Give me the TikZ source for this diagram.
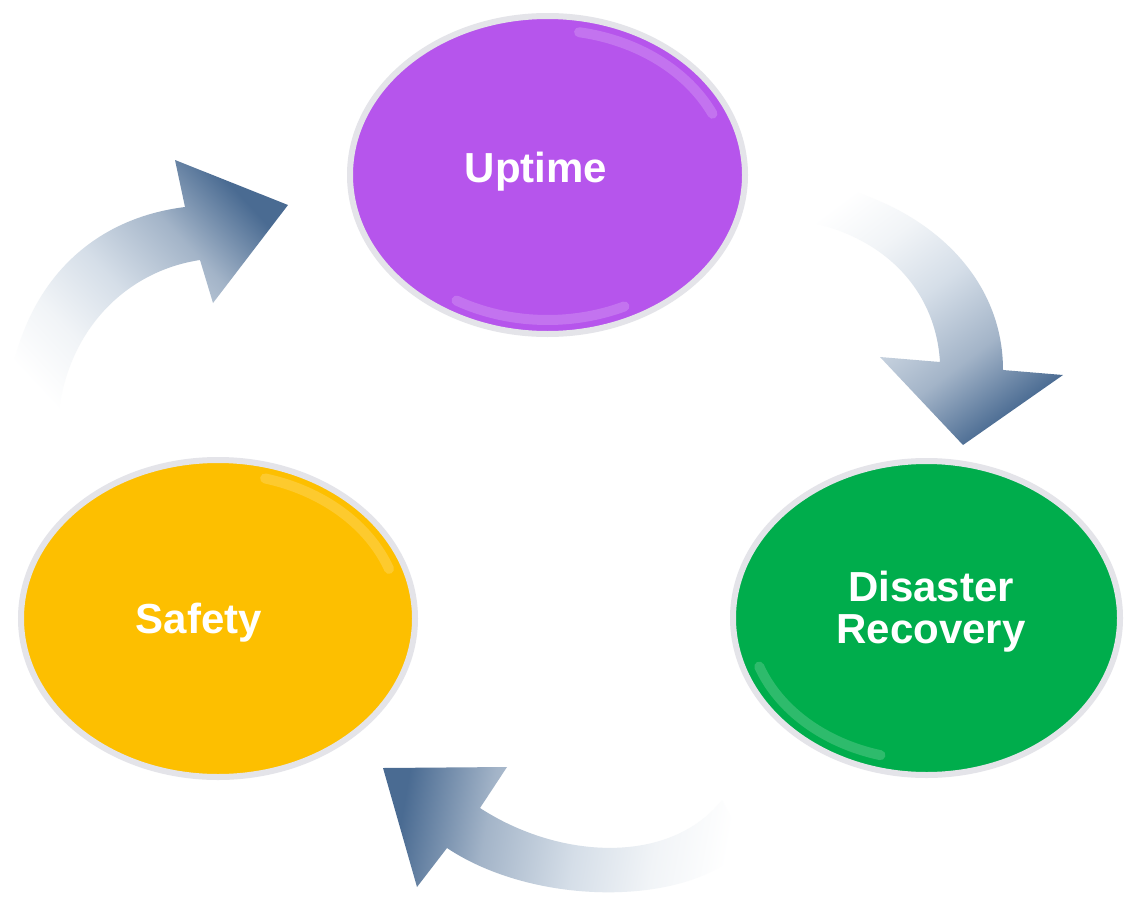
\documentclass[tikz,border=0pt]{standalone}
\usepackage{fontspec}
\setmainfont{Liberation Sans}
\usetikzlibrary{shapes.geometric}

\definecolor{uptimepurple}{HTML}{B655EC}
\definecolor{recoverygreen}{HTML}{00AD4C}
\definecolor{safetyyellow}{HTML}{FDBF00}
\definecolor{rimgray}{HTML}{E4E4E9}
\definecolor{arrowdark}{HTML}{4A6B92}
\definecolor{arrowmid}{HTML}{A3B4C8}
\definecolor{arrowlight}{HTML}{D5DEE8}
\definecolor{arrowtail}{HTML}{F1F4F7}

\pgfdeclarehorizontalshading{arrowfade}{100bp}{color(0bp)=(white); color(25bp)=(white); color(36bp)=(arrowtail); color(48bp)=(arrowlight); color(62bp)=(arrowmid); color(75bp)=(arrowdark); color(100bp)=(arrowdark)}

\begin{document}
\begin{tikzpicture}[x=1pt, y=-1pt,
    bubble/.style={ellipse, draw=rimgray, line width=6pt, inner sep=0pt},
    bubbletext/.style={text=white, font=\bfseries\fontsize{42}{42}\selectfont, inner sep=0pt},
    hilite/.style={white, opacity=0.18, line width=10pt, line cap=round},
    cyclearrow/.style={shading=arrowfade}
]
\useasboundingbox[fill=white] (0,0) rectangle (1124,910);

% the three stages
\node[bubble, fill=uptimepurple, minimum width=395pt, minimum height=318pt] (uptime) at (547.5,175) {};
\node[bubble, fill=recoverygreen, minimum width=387pt, minimum height=314pt] (recovery) at (926.5,618) {};
\node[bubble, fill=safetyyellow, minimum width=394pt, minimum height=317pt] (safety) at (218,618.5) {};

% glossy rims
\draw[hilite] (uptime.center) ++(-25:182 and 145) arc[start angle=-25, end angle=-80, x radius=182, y radius=145];
\draw[hilite] (uptime.center) ++(-240:182 and 145) arc[start angle=-240, end angle=-295, x radius=182, y radius=145];
\draw[hilite] (recovery.center) ++(-200:178 and 142) arc[start angle=-200, end angle=-255, x radius=178, y radius=142];
\draw[hilite] (safety.center) ++(-20:182 and 145) arc[start angle=-20, end angle=-75, x radius=182, y radius=145];

% labels
\node[bubbletext, anchor=base] (uptimelabel) at (536,182) {Uptime};
\node[bubbletext, align=center] (recoverylabel) at (931,612) {Disaster\\Recovery};
\node[bubbletext, anchor=base] (safetylabel) at (199,633) {Safety};

% cycle arrows
\shade[cyclearrow, shading angle=43] (5,440) .. controls (5,300) and (80,220) .. (185,207)
    -- (175,160) -- (288,205) -- (213,303) -- (200,260)
    .. controls (120,272) and (57,340) .. (57,440) -- cycle;
\shade[cyclearrow, shading angle=-53] (780,178) .. controls (900,185) and (1003,260) .. (1003,370)
    -- (1063,375) -- (963,445) -- (880,357) -- (940,362)
    .. controls (935,280) and (870,225) .. (780,218) -- cycle;
\shade[cyclearrow, shading angle=170] (745,845) .. controls (700,905) and (540,910) .. (447,848)
    -- (417,887) -- (383,768) -- (507,767) -- (480,808)
    .. controls (560,860) and (670,865) .. (722,800) -- cycle;
\end{tikzpicture}
\end{document}
